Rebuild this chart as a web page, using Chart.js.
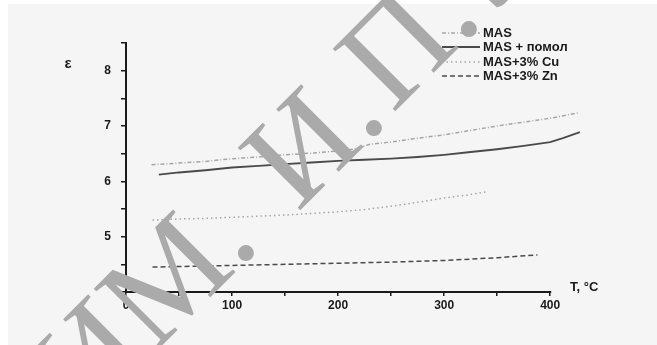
<!DOCTYPE html>
<html>
<head>
<meta charset="utf-8">
<script src="https://cdn.jsdelivr.net/npm/chart.js@4"></script>
<style>
  html, body { margin: 0; padding: 0; background: #ffffff; }
  canvas { display: block; }
</style>
</head>
<body>
<canvas id="epsChart" width="657" height="345"></canvas>
<script>
// Data: temperature (°C) and permittivity
const seriesLabels = ['MAS', 'MAS + помол', 'MAS+3% Cu', 'MAS+3% Zn'];

const tempMAS = [24, 50, 75, 100, 125, 150, 175, 200, 215, 230, 250, 275, 300, 325, 350, 375, 400, 427];
const epsMAS  = [6.30, 6.33, 6.36, 6.41, 6.44, 6.48, 6.51, 6.55, 6.58, 6.67, 6.71, 6.78, 6.84, 6.92, 7.00, 7.07, 7.14, 7.24];

const tempMill = [31, 50, 75, 100, 125, 150, 175, 200, 225, 250, 275, 300, 325, 350, 375, 400, 412, 428];
const epsMill  = [6.12, 6.16, 6.20, 6.25, 6.28, 6.31, 6.34, 6.37, 6.39, 6.41, 6.44, 6.48, 6.53, 6.58, 6.64, 6.71, 6.78, 6.89];

const tempCu = [25, 50, 75, 100, 125, 150, 175, 200, 225, 250, 275, 300, 325, 340];
const epsCu  = [5.30, 5.32, 5.33, 5.35, 5.37, 5.39, 5.42, 5.45, 5.49, 5.55, 5.62, 5.70, 5.76, 5.81];

const tempZn = [25, 50, 100, 150, 200, 250, 300, 350, 388];
const epsZn  = [4.45, 4.46, 4.48, 4.50, 4.52, 4.54, 4.57, 4.62, 4.67];

const xTickLabels = [0, 100, 200, 300, 400];
const yTickLabels = [5, 6, 7, 8];
const xAxisEnd = 400;   // axis line stops here, data runs a little further

const xTitle = 'T, °C';
const yTitle = 'ε';
// watermark pieces, each ending with its dot
const watermarkParts = ['ИМ.', 'И.', 'П.', 'Л'];

function toPoints(xs, ys) {
    return xs.map((x, i) => ({ x: x, y: ys[i] }));
}

// Panel background
const backgroundPlugin = {
    id: 'panelBackground',
    beforeDraw(chart) {
        const ctx = chart.ctx;
        ctx.save();
        ctx.fillStyle = '#f5f5f5';
        ctx.fillRect(8, 4, chart.width - 8, chart.height - 4);
        ctx.restore();
    }
};

// x axis line only up to 400
const xAxisLinePlugin = {
    id: 'xAxisLine',
    afterDatasetsDraw(chart) {
        const ctx = chart.ctx;
        const x = chart.scales.x, y = chart.scales.y;
        const yPix = y.getPixelForValue(y.min);
        ctx.save();
        ctx.strokeStyle = '#1a1a1a';
        ctx.lineWidth = 2;
        ctx.beginPath();
        ctx.moveTo(x.getPixelForValue(0) - 1, yPix);
        ctx.lineTo(x.getPixelForValue(xAxisEnd) + 1, yPix);
        ctx.stroke();
        ctx.restore();
    }
};

// Axis titles and the legend in the top right corner
const annotationsPlugin = {
    id: 'annotations',
    afterDraw(chart) {
        const ctx = chart.ctx;
        ctx.save();
        ctx.fillStyle = '#1a1a1a';
        ctx.textBaseline = 'middle';

        ctx.font = 'bold 15px "Liberation Sans", Arial, sans-serif';
        ctx.textAlign = 'center';
        ctx.fillText(yTitle, 68, 64);

        ctx.font = 'bold 13px "Liberation Sans", Arial, sans-serif';
        ctx.textAlign = 'left';
        ctx.fillText(xTitle, 570, 287);

        // legend
        const rows = [33, 47, 62, 76];
        chart.data.datasets.forEach((ds, i) => {
            const y = rows[i];
            ctx.strokeStyle = ds.borderColor;
            ctx.lineWidth = ds.borderWidth;
            ctx.setLineDash(ds.borderDash || []);
            ctx.beginPath();
            ctx.moveTo(442, y);
            ctx.lineTo(480, y);
            ctx.stroke();
            ctx.setLineDash([]);
            ctx.fillStyle = '#1a1a1a';
            ctx.fillText(ds.label, 483, y);
        });
        ctx.restore();
    }
};

// Diagonal watermark over the whole picture
const watermarkPlugin = {
    id: 'watermark',
    afterDraw(chart) {
        const ctx = chart.ctx;
        const size = 135;
        ctx.save();
        ctx.font = size + 'px "Liberation Serif", "DejaVu Serif", serif';
        ctx.fillStyle = '#aaaaaa';
        ctx.textBaseline = 'alphabetic';
        const a = -Math.PI / 4;
        const ux = Math.cos(a), uy = Math.sin(a);
        const dx = -Math.sin(a), dy = Math.cos(a);
        const along = size * 0.125, down = size * 0.055;
        const dots = [[245, 252], [373, 127], [468, 28]];
        dots.forEach((d, i) => {
            ctx.save();
            ctx.translate(d[0] + along * ux + down * dx, d[1] + along * uy + down * dy);
            ctx.rotate(a);
            ctx.textAlign = 'right';
            ctx.fillText(watermarkParts[i], 0, 0);
            if (i === dots.length - 1) {
                ctx.textAlign = 'left';
                ctx.fillText(watermarkParts[3], size * 0.12, 0);
            }
            ctx.restore();
        });
        ctx.restore();
    }
};

const ctx = document.getElementById('epsChart').getContext('2d');
new Chart(ctx, {
    type: 'line',
    data: {
        datasets: [{
            label: seriesLabels[0],
            data: toPoints(tempMAS, epsMAS),
            borderColor: '#a6a6a6',
            borderWidth: 1.5,
            borderDash: [4, 2, 1, 2]
        }, {
            label: seriesLabels[1],
            data: toPoints(tempMill, epsMill),
            borderColor: '#4a4a4a',
            borderWidth: 1.8
        }, {
            label: seriesLabels[2],
            data: toPoints(tempCu, epsCu),
            borderColor: '#a6a6a6',
            borderWidth: 1.5,
            borderDash: [1.5, 3]
        }, {
            label: seriesLabels[3],
            data: toPoints(tempZn, epsZn),
            borderColor: '#4a4a4a',
            borderWidth: 1.5,
            borderDash: [5, 3]
        }]
    },
    options: {
        responsive: false,
        devicePixelRatio: 1,
        animation: false,
        elements: {
            point: { radius: 0 },
            line: { tension: 0, fill: false }
        },
        layout: {
            padding: { top: 43, right: 75, bottom: 0, left: 0 }
        },
        plugins: {
            legend: { display: false },
            tooltip: { enabled: false }
        },
        scales: {
            x: {
                type: 'linear',
                min: 0,
                max: 430,
                afterFit: (scale) => { scale.height = 53; },
                afterBuildTicks: (scale) => {
                    scale.ticks = scale.ticks.filter(t => t.value <= xAxisEnd && t.value % 50 === 0);
                },
                ticks: {
                    stepSize: 50,
                    maxRotation: 0,
                    autoSkip: false,
                    padding: 2,
                    color: '#1a1a1a',
                    font: { family: '"Liberation Sans", Arial, sans-serif', size: 12, weight: 'bold' },
                    callback: (v) => xTickLabels.includes(v) ? String(v) : ''
                },
                grid: {
                    drawOnChartArea: false,
                    drawTicks: true,
                    tickLength: 4,
                    color: '#1a1a1a',
                    lineWidth: 1.5
                },
                border: { display: false }
            },
            y: {
                type: 'linear',
                min: 4,
                max: 8.5,
                afterFit: (scale) => { scale.width = 126; },
                ticks: {
                    stepSize: 0.5,
                    padding: 10,
                    color: '#1a1a1a',
                    font: { family: '"Liberation Sans", Arial, sans-serif', size: 12, weight: 'bold' },
                    callback: (v) => yTickLabels.includes(v) ? String(v) : ''
                },
                grid: {
                    drawOnChartArea: false,
                    drawTicks: true,
                    tickLength: 5,
                    color: '#1a1a1a',
                    lineWidth: 1.5
                },
                border: { color: '#1a1a1a', width: 2 }
            }
        }
    },
    plugins: [backgroundPlugin, xAxisLinePlugin, annotationsPlugin, watermarkPlugin]
});
</script>
</body>
</html>
